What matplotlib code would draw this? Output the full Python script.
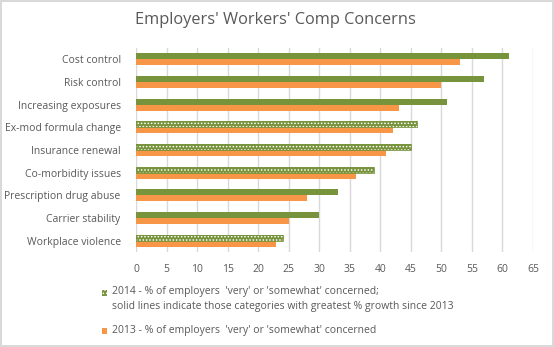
import matplotlib
matplotlib.use("Agg")
import matplotlib.pyplot as plt
import numpy as np
from matplotlib.patches import Rectangle

plt.rcParams['font.family'] = ['Open Sans', 'DejaVu Sans']
plt.rcParams['hatch.linewidth'] = 0.7

categories = ["Cost control", "Risk control", "Increasing exposures", "Ex-mod formula change",
              "Insurance renewal", "Co-morbidity issues", "Prescription drug abuse",
              "Carrier stability", "Workplace violence"]
vals2014 = [61, 57, 51, 46, 45, 39, 33, 30, 24]
vals2013 = [53, 50, 43, 42, 41, 36, 28, 25, 23]
solid2014 = [True, True, True, False, False, False, True, True, False]
xticks = list(range(0, 70, 5))

label2014 = "2014 - % of employers  'very' or 'somewhat' concerned;\nsolid lines indicate those categories with greatest % growth since 2013"
label2013 = "2013 - % of employers  'very' or 'somewhat' concerned"

green = "#77933C"
orange = "#F79646"
txt = "#595959"
hatch = "....."

fig = plt.figure(figsize=(5.54, 3.47), dpi=100)
fig.patch.set_edgecolor("#D9D9D9")
fig.patch.set_linewidth(1.5)
ax = fig.add_axes([136/554, 1-252/347, 397/554, 204/347])

y = np.arange(len(categories))
h = 0.265
for i in range(len(categories)):
    if solid2014[i]:
        ax.barh(y[i] - h/2, vals2014[i], height=h, color=green, linewidth=0, zorder=3)
    else:
        ax.barh(y[i] - h/2, vals2014[i], height=h, facecolor=green, edgecolor="white",
                hatch=hatch, linewidth=0, zorder=3)
        ax.barh(y[i] - h/2, vals2014[i], height=h, fill=False, edgecolor=green,
                linewidth=0.6, zorder=4)
ax.barh(y + h/2, vals2013, height=h, color=orange, linewidth=0, zorder=3)

ax.set_xlim(0, 65)
ax.set_ylim(len(categories) - 0.5, -0.5)
ax.set_xticks(xticks)
ax.set_yticks(y)
ax.set_yticklabels(categories)
ax.tick_params(length=0, labelsize=7.5, labelcolor=txt)
ax.tick_params(axis='y', pad=11)
ax.tick_params(axis='x', pad=9)
ax.grid(axis='x', color="#D9D9D9", linewidth=1, zorder=0)
for s in ax.spines.values():
    s.set_visible(False)

fig.text(275/554, 1-20/347, "Employers' Workers' Comp Concerns", ha='center', va='center',
         fontsize=11.8, color=txt)

# legend
fig.patches.append(Rectangle((102/554, 1-296/347), 5/554, 6/347, transform=fig.transFigure,
                             facecolor=green, edgecolor="white", hatch=hatch, linewidth=0))
fig.patches.append(Rectangle((102/554, 1-334/347), 5/554, 6/347, transform=fig.transFigure,
                             facecolor=orange, linewidth=0))
fig.text(112/554, 1-286/347, label2014, ha='left', va='top', fontsize=7.5, color=txt,
         linespacing=1.45)
fig.text(112/554, 1-331/347, label2013, ha='left', va='center', fontsize=7.5, color=txt)

fig.savefig("out.png", dpi=100)
